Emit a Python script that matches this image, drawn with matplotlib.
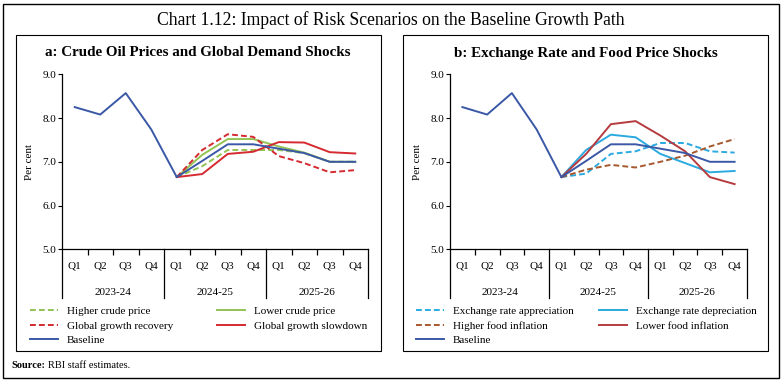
import matplotlib
matplotlib.use("Agg")
import matplotlib.pyplot as plt
from matplotlib.patches import Rectangle
from matplotlib.lines import Line2D

plt.rcParams['font.family'] = ['Liberation Serif', 'DejaVu Serif']

# ---------------- data ----------------
quarters = ['Q1', 'Q2', 'Q3', 'Q4'] * 3
years = ['2023-24', '2024-25', '2025-26']
baseline = [8.25, 8.08, 8.57, 7.74, 6.65, 7.02, 7.40, 7.40, 7.30, 7.20, 7.00, 7.00]

# scenarios start at 2024-25 Q1 (index 4)
higher_crude = [6.65, 6.90, 7.27, 7.27, 7.27, 7.20, 7.00, 7.00]
lower_crude = [6.65, 7.16, 7.52, 7.52, 7.35, 7.21, 7.00, 7.00]
growth_recovery = [6.65, 7.27, 7.63, 7.57, 7.13, 6.97, 6.76, 6.81]
growth_slowdown = [6.65, 6.72, 7.18, 7.23, 7.45, 7.44, 7.22, 7.19]

fx_appreciation = [6.65, 6.73, 7.18, 7.24, 7.43, 7.43, 7.24, 7.21]
fx_depreciation = [6.65, 7.27, 7.62, 7.56, 7.18, 6.97, 6.76, 6.79]
higher_food = [6.65, 6.82, 6.93, 6.87, 7.00, 7.14, 7.35, 7.52]
lower_food = [6.65, 7.18, 7.86, 7.93, 7.60, 7.24, 6.65, 6.49]

yticks = [5.0, 6.0, 7.0, 8.0, 9.0]

W, H = 781, 383
fig = plt.figure(figsize=(W / 100, H / 100), dpi=100)


def fx(px):
    return px / W


def fy(py):
    return 1 - py / H


# outer border and panel boxes
fig.patches.append(Rectangle((fx(3), fy(378)), fx(776), 374 / H, transform=fig.transFigure,
                             fill=False, lw=1.0, ec='black'))
for x0, x1 in [(16, 381), (403, 768)]:
    fig.patches.append(Rectangle((fx(x0), fy(351)), fx(x1 - x0), (351 - 35) / H,
                                 transform=fig.transFigure, fill=False, lw=0.8, ec='black'))

fig.text(0.5, fy(20), 'Chart 1.12: Impact of Risk Scenarios on the Baseline Growth Path',
         ha='center', va='center', fontsize=12.7)
fig.text(fx(11), fy(366), 'Source:', fontsize=7.5, fontweight='bold', va='center', ha='left')
fig.text(fx(48), fy(366), 'RBI staff estimates.', fontsize=7.5, va='center', ha='left')

BLUE = '#3A58A6'
GREEN = '#92C353'
RED = '#D42A30'
LBLUE = '#2AAAE0'
BROWN = '#A5582E'
DRED = '#B53B3E'
DASH = (0, (3, 1.6))

x_all = list(range(12))
x_scn = list(range(4, 12))


def setup_axes(ax, panel_title, title_x):
    ax.set_xlim(-0.5, 11.5)
    ax.set_ylim(5.0, 9.0)
    ax.set_yticks(yticks)
    ax.set_yticklabels([f'{v:.1f}' for v in yticks], fontsize=8)
    ax.tick_params(axis='y', direction='out', length=3, width=0.8, pad=1)
    ax.set_ylabel('Per cent', fontsize=8, labelpad=6)
    for s in ['top', 'right']:
        ax.spines[s].set_visible(False)
    for s in ['left', 'bottom']:
        ax.spines[s].set_linewidth(0.9)
    # quarter labels
    ax.set_xticks(x_all)
    ax.set_xticklabels(quarters, fontsize=8)
    ax.tick_params(axis='x', length=0, pad=9)
    # small boundary ticks
    ax.set_xticks([0.5, 1.5, 2.5, 4.5, 5.5, 6.5, 8.5, 9.5, 10.5], minor=True)
    ax.tick_params(axis='x', which='minor', length=4, width=0.9, direction='out')
    tr = ax.get_xaxis_transform()
    for b in [-0.5, 3.5, 7.5, 11.5]:
        ax.add_line(Line2D([b, b], [0, -0.28], transform=tr, clip_on=False, color='black', lw=0.9))
    for i, yl in enumerate(years):
        ax.text(1.5 + 4 * i, -0.245, yl, transform=tr, ha='center', va='center', fontsize=8)
    fig.text(fx(title_x), fy(53), panel_title, ha='center', va='center',
             fontsize=10.8, fontweight='bold')


# ---------- panel a ----------
axa = fig.add_axes([fx(62), fy(249.3), fx(306), 175 / H])
setup_axes(axa, 'a: Crude Oil Prices and Global Demand Shocks', 198)
l1, = axa.plot(x_scn, higher_crude, color=GREEN, lw=1.4, ls=DASH, label='Higher crude price')
l2, = axa.plot(x_scn, lower_crude, color=GREEN, lw=1.4, label='Lower crude price')
l3, = axa.plot(x_scn, growth_recovery, color=RED, lw=1.4, ls=DASH, label='Global growth recovery')
l4, = axa.plot(x_scn, growth_slowdown, color=RED, lw=1.4, label='Global growth slowdown')
l5, = axa.plot(x_all, baseline, color=BLUE, lw=1.4, label='Baseline')

leg_kw = dict(frameon=False, fontsize=8, handlelength=2.5, handletextpad=0.8,
              labelspacing=0.45, borderpad=0, borderaxespad=0, loc='upper left')
fig.legend(handles=[l1, l3, l5], bbox_to_anchor=(fx(30), fy(306)), **leg_kw)
fig.legend(handles=[l2, l4], bbox_to_anchor=(fx(217), fy(306)), **leg_kw)

# ---------- panel b ----------
axb = fig.add_axes([fx(450), fy(249.3), fx(297), 175 / H])
setup_axes(axb, 'b: Exchange Rate and Food Price Shocks', 586)
m1, = axb.plot(x_scn, fx_appreciation, color=LBLUE, lw=1.4, ls=DASH, label='Exchange rate appreciation')
m2, = axb.plot(x_scn, fx_depreciation, color=LBLUE, lw=1.4, label='Exchange rate depreciation')
m3, = axb.plot(x_scn, higher_food, color=BROWN, lw=1.4, ls=DASH, label='Higher food inflation')
m4, = axb.plot(x_scn, lower_food, color=DRED, lw=1.4, label='Lower food inflation')
m5, = axb.plot(x_all, baseline, color=BLUE, lw=1.4, label='Baseline')

fig.legend(handles=[m1, m3, m5], bbox_to_anchor=(fx(416), fy(306)), **leg_kw)
fig.legend(handles=[m2, m4], bbox_to_anchor=(fx(599), fy(306)), **leg_kw)

fig.savefig('out.png', dpi=100)
